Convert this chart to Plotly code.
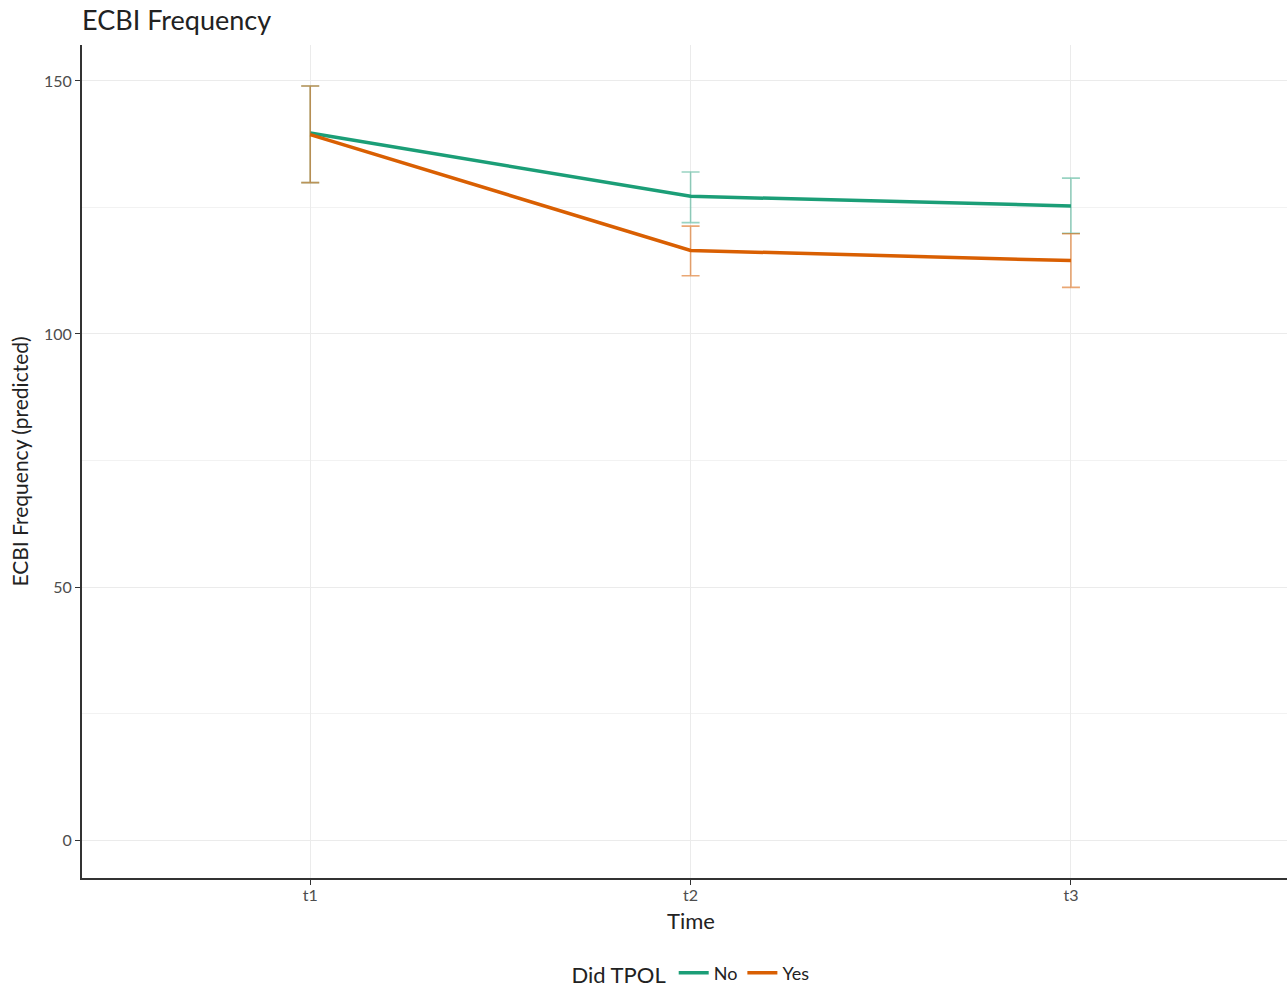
import plotly.graph_objects as go

times = ["t1", "t2", "t3"]
no_mean = [139.7, 127.2, 125.3]
no_lower = [129.9, 122.0, 119.9]
no_upper = [149.0, 132.0, 130.8]
yes_mean = [139.4, 116.5, 114.5]
yes_lower = [129.9, 111.5, 109.2]
yes_upper = [149.0, 121.3, 119.8]

GREEN = "#1b9e77"
ORANGE = "#d95f02"

def trace(name, mean, lower, upper, color, ecolor):
    return go.Scatter(
        x=times, y=mean, name=name, mode="lines",
        line=dict(color=color, width=3.5),
        error_y=dict(type="data", symmetric=False,
                     array=[u - m for u, m in zip(upper, mean)],
                     arrayminus=[m - l for m, l in zip(mean, lower)],
                     color=ecolor, thickness=1.6, width=9),
    )

fig = go.Figure()
fig.add_trace(trace("No", no_mean, no_lower, no_upper, GREEN, "rgba(27,158,119,0.45)"))
fig.add_trace(trace("Yes", yes_mean, yes_lower, yes_upper, ORANGE, "rgba(217,95,2,0.55)"))

FONT = "Lato, 'Open Sans', sans-serif"
fig.update_layout(
    width=1287, height=989,
    margin=dict(l=82, r=0, t=45, b=111),
    paper_bgcolor="white", plot_bgcolor="white",
    font=dict(family=FONT, color="#222222"),
    title=dict(text="ECBI Frequency", x=82/1287, xanchor="left", y=1 - 21/989, yanchor="middle",
               font=dict(size=27, color="#222222", family=FONT)),
    xaxis=dict(type="category", range=[-0.6, 2.568], showgrid=True, gridcolor="#ebebeb", gridwidth=1,
               showline=True, linecolor="#333333", linewidth=2, ticks="outside", ticklen=5,
               tickcolor="#333333", tickfont=dict(size=16, color="#4d4d4d"), ticklabelstandoff=-3,
               zeroline=False),
    yaxis=dict(range=[-7.5, 157.1], tickvals=[0, 50, 100, 150], showgrid=True, gridcolor="#ebebeb",
               gridwidth=1.2, minor=dict(tickvals=[25, 75, 125], showgrid=True, gridcolor="#f2f2f2", gridwidth=1),
               showline=True, linecolor="#333333", linewidth=2, ticks="outside", ticklen=5,
               tickcolor="#333333", tickfont=dict(size=16, color="#4d4d4d"), zeroline=False,
               title=dict(text="ECBI Frequency (predicted)", font=dict(size=21, color="#222222"), standoff=10)),
    legend=dict(orientation="h", x=692 / 1287, xref="container", xanchor="center",
                y=1 - 974 / 989, yref="container", yanchor="middle",
                title=dict(text="Did TPOL", font=dict(size=22, color="#222222"), side="left"),
                font=dict(size=18, color="#222222"), itemwidth=30, tracegroupgap=0),
    showlegend=True,
    annotations=[dict(text="Time", xref="paper", yref="paper", x=(691 - 82) / 1205,
                      y=-(920 - 878) / (878 - 45), xanchor="center", yanchor="middle",
                      showarrow=False, font=dict(size=22, color="#222222"))],
)
fig.write_html("out.html", config={"displayModeBar": False},
               post_script="document.body.style.margin='0';document.body.style.overflow='hidden';")
